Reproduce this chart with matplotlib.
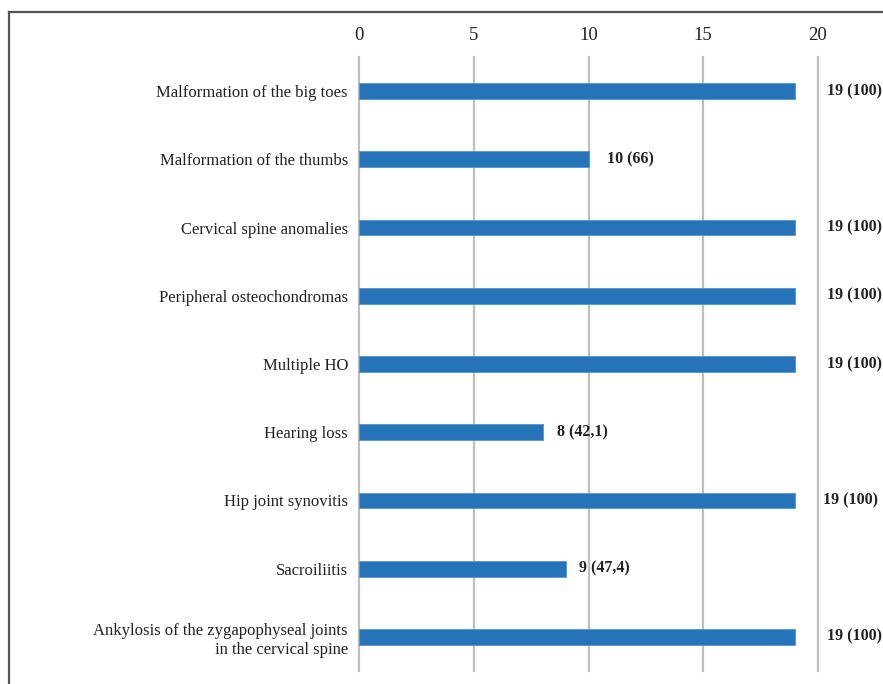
import matplotlib
matplotlib.use("Agg")
import matplotlib.pyplot as plt
from matplotlib.lines import Line2D

categories = [
    "Malformation of the big toes",
    "Malformation of the thumbs",
    "Cervical spine anomalies",
    "Peripheral osteochondromas",
    "Multiple HO",
    "Hearing loss",
    "Hip joint synovitis",
    "Sacroiliitis",
    "Ankylosis of the zygapophyseal joints\nin the cervical spine",
]
values = [19, 10, 19, 19, 19, 8, 19, 9, 19]
value_labels = ["19 (100)", "10 (66)", "19 (100)", "19 (100)", "19 (100)",
                "8 (42,1)", "19 (100)", "9 (47,4)", "19 (100)"]
label_offsets = [1.38, 0.8, 1.38, 1.38, 1.38, 0.62, 1.2, 0.6, 1.38]
xticks = [0, 5, 10, 15, 20]

plt.rcParams['font.family'] = ['Liberation Serif', 'DejaVu Serif']

fig = plt.figure(figsize=(8.83, 6.84), dpi=100)
ax = fig.add_axes([359/883, 1 - 671/684, (818-359)/883, (671-57)/684])

ypos = list(range(len(categories)))
ax.barh(ypos, values, height=0.23, color="#2573b8", edgecolor="#5a93cc",
        linewidth=0.6, zorder=3)

for y, v, lab, off in zip(ypos, values, value_labels, label_offsets):
    ax.text(v + off, y, lab, va="center", ha="left", fontsize=11.5,
            fontweight="bold", color="#222222")

ax.set_xlim(0, 20)
ax.set_ylim(len(categories) - 0.5, -0.5)
ax.set_xticks(xticks)
ax.xaxis.tick_top()
ax.tick_params(axis="x", length=0, pad=9, labelsize=13.5, labelcolor="#222222")
ax.set_yticks(ypos)
ax.set_yticklabels(categories, fontsize=12, color="#222222", linespacing=1.3)
ax.tick_params(axis="y", length=0, pad=8)
ax.grid(axis="x", color="#bfbfbf", linewidth=1.6, zorder=0)
for gl in ax.get_xgridlines():
    gl.set_clip_on(False)
ax.set_axisbelow(True)
for s in ax.spines.values():
    s.set_visible(False)

# frame lines (left and top border)
fig.add_artist(Line2D([9/883, 9/883], [0, 1 - 12/684], transform=fig.transFigure,
                      color="#555555", linewidth=1.6))
fig.add_artist(Line2D([9/883, 1], [1 - 12/684, 1 - 12/684], transform=fig.transFigure,
                      color="#555555", linewidth=1.6))

fig.savefig("out.png", dpi=100)
